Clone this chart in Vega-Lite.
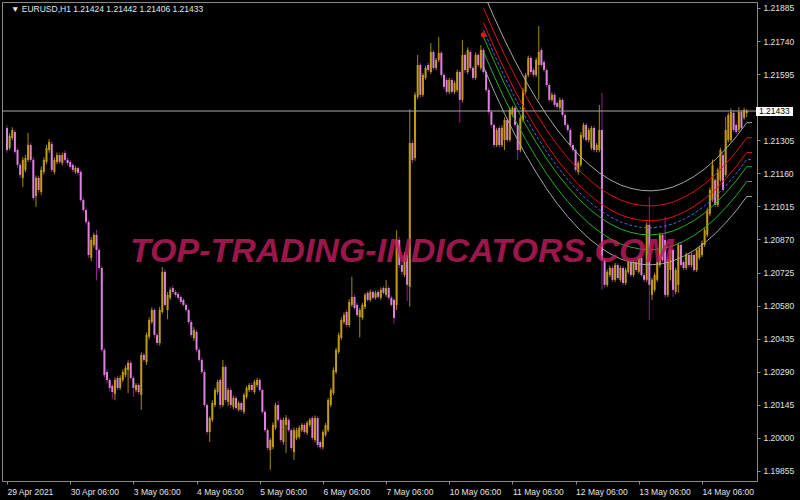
{
"$schema":"https://vega.github.io/schema/vega-lite/v6.json",
"width":755,"height":479,
"autosize":{"type":"none"},
"padding":{"left":2,"top":2,"right":43,"bottom":19},
"background":"#000000",
"config":{"view":{"stroke":"#8a8a8a","strokeWidth":1},"axis":{"labelFont":"Liberation Sans","labelFontSize":8.5,"labelColor":"#e2e2e2","domainColor":"#8a8a8a","tickColor":"#8a8a8a","grid":false,"labelOverlap":false,"title":null}},
"datasets":{
"candles":[
{"i":0,"o":1.21359,"h":1.21370,"l":1.21250,"c":1.21262},
{"i":1,"o":1.21271,"h":1.21335,"l":1.21262,"c":1.21324},
{"i":2,"o":1.21315,"h":1.21362,"l":1.21305,"c":1.21350},
{"i":3,"o":1.21341,"h":1.21350,"l":1.21245,"c":1.21254},
{"i":4,"o":1.21262,"h":1.21270,"l":1.21185,"c":1.21197},
{"i":5,"o":1.21197,"h":1.21205,"l":1.21140,"c":1.21153},
{"i":6,"o":1.21140,"h":1.21230,"l":1.21100,"c":1.21219},
{"i":7,"o":1.21175,"h":1.21240,"l":1.21165,"c":1.21227},
{"i":8,"o":1.21219,"h":1.21337,"l":1.21210,"c":1.21284},
{"i":9,"o":1.21284,"h":1.21295,"l":1.21210,"c":1.21219},
{"i":10,"o":1.21219,"h":1.21230,"l":1.21040,"c":1.21052},
{"i":11,"o":1.21061,"h":1.21150,"l":1.21013,"c":1.21140},
{"i":12,"o":1.21140,"h":1.21150,"l":1.21075,"c":1.21087},
{"i":13,"o":1.21078,"h":1.21190,"l":1.21065,"c":1.21175},
{"i":14,"o":1.21166,"h":1.21230,"l":1.21155,"c":1.21219},
{"i":15,"o":1.21210,"h":1.21285,"l":1.21200,"c":1.21271},
{"i":16,"o":1.21262,"h":1.21310,"l":1.21250,"c":1.21297},
{"i":17,"o":1.21289,"h":1.21300,"l":1.21165,"c":1.21175},
{"i":18,"o":1.21166,"h":1.21230,"l":1.21155,"c":1.21219},
{"i":19,"o":1.21210,"h":1.21252,"l":1.21200,"c":1.21240},
{"i":20,"o":1.21240,"h":1.21250,"l":1.21200,"c":1.21210},
{"i":21,"o":1.21205,"h":1.21250,"l":1.21195,"c":1.21240},
{"i":22,"o":1.21249,"h":1.21260,"l":1.21210,"c":1.21219},
{"i":23,"o":1.21219,"h":1.21228,"l":1.21195,"c":1.21205},
{"i":24,"o":1.21210,"h":1.21218,"l":1.21180,"c":1.21188},
{"i":25,"o":1.21197,"h":1.21205,"l":1.21165,"c":1.21175},
{"i":26,"o":1.21166,"h":1.21192,"l":1.21158,"c":1.21183},
{"i":27,"o":1.21183,"h":1.21190,"l":1.21150,"c":1.21162},
{"i":28,"o":1.21166,"h":1.21175,"l":1.21035,"c":1.21043},
{"i":29,"o":1.21043,"h":1.21052,"l":1.20990,"c":1.20999},
{"i":30,"o":1.20999,"h":1.21010,"l":1.20935,"c":1.20947},
{"i":31,"o":1.20947,"h":1.20955,"l":1.20790,"c":1.20802},
{"i":32,"o":1.20789,"h":1.20880,"l":1.20775,"c":1.20868},
{"i":33,"o":1.20846,"h":1.20900,"l":1.20835,"c":1.20890},
{"i":34,"o":1.20890,"h":1.20912,"l":1.20690,"c":1.20824},
{"i":35,"o":1.20824,"h":1.20835,"l":1.20735,"c":1.20745},
{"i":36,"o":1.20745,"h":1.20755,"l":1.20375,"c":1.20386},
{"i":37,"o":1.20386,"h":1.20395,"l":1.20265,"c":1.20276},
{"i":38,"o":1.20289,"h":1.20300,"l":1.20240,"c":1.20254},
{"i":39,"o":1.20254,"h":1.20262,"l":1.20205,"c":1.20219},
{"i":40,"o":1.20228,"h":1.20235,"l":1.20170,"c":1.20201},
{"i":41,"o":1.20193,"h":1.20265,"l":1.20165,"c":1.20254},
{"i":42,"o":1.20263,"h":1.20272,"l":1.20210,"c":1.20219},
{"i":43,"o":1.20219,"h":1.20275,"l":1.20210,"c":1.20263},
{"i":44,"o":1.20254,"h":1.20300,"l":1.20245,"c":1.20289},
{"i":45,"o":1.20276,"h":1.20318,"l":1.20265,"c":1.20307},
{"i":46,"o":1.20298,"h":1.20340,"l":1.20197,"c":1.20329},
{"i":47,"o":1.20329,"h":1.20340,"l":1.20255,"c":1.20263},
{"i":48,"o":1.20263,"h":1.20272,"l":1.20180,"c":1.20219},
{"i":49,"o":1.20210,"h":1.20240,"l":1.20200,"c":1.20232},
{"i":50,"o":1.20232,"h":1.20240,"l":1.20192,"c":1.20201},
{"i":51,"o":1.20188,"h":1.20375,"l":1.20123,"c":1.20364},
{"i":52,"o":1.20364,"h":1.20372,"l":1.20333,"c":1.20342},
{"i":53,"o":1.20333,"h":1.20462,"l":1.20320,"c":1.20451},
{"i":54,"o":1.20443,"h":1.20528,"l":1.20432,"c":1.20517},
{"i":55,"o":1.20508,"h":1.20572,"l":1.20500,"c":1.20561},
{"i":56,"o":1.20561,"h":1.20570,"l":1.20440,"c":1.20451},
{"i":57,"o":1.20451,"h":1.20460,"l":1.20405,"c":1.20416},
{"i":58,"o":1.20416,"h":1.20575,"l":1.20405,"c":1.20561},
{"i":59,"o":1.20552,"h":1.20749,"l":1.20545,"c":1.20728},
{"i":60,"o":1.20728,"h":1.20738,"l":1.20575,"c":1.20583},
{"i":61,"o":1.20561,"h":1.20640,"l":1.20520,"c":1.20627},
{"i":62,"o":1.20614,"h":1.20660,"l":1.20605,"c":1.20649},
{"i":63,"o":1.20657,"h":1.20668,"l":1.20632,"c":1.20640},
{"i":64,"o":1.20640,"h":1.20648,"l":1.20618,"c":1.20627},
{"i":65,"o":1.20631,"h":1.20640,"l":1.20605,"c":1.20614},
{"i":66,"o":1.20618,"h":1.20625,"l":1.20588,"c":1.20596},
{"i":67,"o":1.20605,"h":1.20612,"l":1.20575,"c":1.20583},
{"i":68,"o":1.20583,"h":1.20590,"l":1.20552,"c":1.20561},
{"i":69,"o":1.20561,"h":1.20568,"l":1.20498,"c":1.20508},
{"i":70,"o":1.20508,"h":1.20518,"l":1.20440,"c":1.20451},
{"i":71,"o":1.20438,"h":1.20485,"l":1.20425,"c":1.20473},
{"i":72,"o":1.20465,"h":1.20475,"l":1.20375,"c":1.20386},
{"i":73,"o":1.20386,"h":1.20395,"l":1.20332,"c":1.20342},
{"i":74,"o":1.20342,"h":1.20350,"l":1.20280,"c":1.20289},
{"i":75,"o":1.20289,"h":1.20298,"l":1.20135,"c":1.20144},
{"i":76,"o":1.20144,"h":1.20152,"l":1.20015,"c":1.20026},
{"i":77,"o":1.20026,"h":1.20095,"l":1.19982,"c":1.20087},
{"i":78,"o":1.20079,"h":1.20165,"l":1.20070,"c":1.20153},
{"i":79,"o":1.20144,"h":1.20220,"l":1.20135,"c":1.20210},
{"i":80,"o":1.20201,"h":1.20255,"l":1.20190,"c":1.20245},
{"i":81,"o":1.20254,"h":1.20265,"l":1.20128,"c":1.20144},
{"i":82,"o":1.20144,"h":1.20342,"l":1.20135,"c":1.20311},
{"i":83,"o":1.20311,"h":1.20320,"l":1.20155,"c":1.20166},
{"i":84,"o":1.20158,"h":1.20220,"l":1.20140,"c":1.20210},
{"i":85,"o":1.20210,"h":1.20220,"l":1.20130,"c":1.20144},
{"i":86,"o":1.20136,"h":1.20185,"l":1.20125,"c":1.20175},
{"i":87,"o":1.20175,"h":1.20185,"l":1.20120,"c":1.20131},
{"i":88,"o":1.20123,"h":1.20162,"l":1.20115,"c":1.20153},
{"i":89,"o":1.20153,"h":1.20160,"l":1.20112,"c":1.20123},
{"i":90,"o":1.20114,"h":1.20198,"l":1.20105,"c":1.20188},
{"i":91,"o":1.20180,"h":1.20228,"l":1.20170,"c":1.20219},
{"i":92,"o":1.20210,"h":1.20240,"l":1.20200,"c":1.20232},
{"i":93,"o":1.20232,"h":1.20242,"l":1.20200,"c":1.20210},
{"i":94,"o":1.20201,"h":1.20255,"l":1.20192,"c":1.20245},
{"i":95,"o":1.20232,"h":1.20263,"l":1.20222,"c":1.20254},
{"i":96,"o":1.20254,"h":1.20262,"l":1.20200,"c":1.20210},
{"i":97,"o":1.20210,"h":1.20218,"l":1.20105,"c":1.20114},
{"i":98,"o":1.20114,"h":1.20122,"l":1.20025,"c":1.20034},
{"i":99,"o":1.20034,"h":1.20042,"l":1.19945,"c":1.19956},
{"i":100,"o":1.19947,"h":1.20000,"l":1.19860,"c":1.19991},
{"i":101,"o":1.19960,"h":1.20068,"l":1.19950,"c":1.20057},
{"i":102,"o":1.20044,"h":1.20155,"l":1.20035,"c":1.20144},
{"i":103,"o":1.20144,"h":1.20160,"l":1.20070,"c":1.20079},
{"i":104,"o":1.20079,"h":1.20088,"l":1.19980,"c":1.19991},
{"i":105,"o":1.19982,"h":1.20090,"l":1.19970,"c":1.20079},
{"i":106,"o":1.20057,"h":1.20100,"l":1.19934,"c":1.20087},
{"i":107,"o":1.20079,"h":1.20088,"l":1.20025,"c":1.20034},
{"i":108,"o":1.20034,"h":1.20042,"l":1.19945,"c":1.19956},
{"i":109,"o":1.19938,"h":1.20045,"l":1.19903,"c":1.20034},
{"i":110,"o":1.20000,"h":1.20045,"l":1.19990,"c":1.20034},
{"i":111,"o":1.20004,"h":1.20055,"l":1.19995,"c":1.20044},
{"i":112,"o":1.20034,"h":1.20065,"l":1.20025,"c":1.20057},
{"i":113,"o":1.20057,"h":1.20065,"l":1.20018,"c":1.20026},
{"i":114,"o":1.20022,"h":1.20075,"l":1.20012,"c":1.20066},
{"i":115,"o":1.20057,"h":1.20088,"l":1.20048,"c":1.20079},
{"i":116,"o":1.20087,"h":1.20095,"l":1.19990,"c":1.20000},
{"i":117,"o":1.19991,"h":1.20098,"l":1.19980,"c":1.20087},
{"i":118,"o":1.20087,"h":1.20095,"l":1.19960,"c":1.19969},
{"i":119,"o":1.19982,"h":1.19990,"l":1.19950,"c":1.19960},
{"i":120,"o":1.19960,"h":1.20035,"l":1.19950,"c":1.20026},
{"i":121,"o":1.20013,"h":1.20065,"l":1.20005,"c":1.20057},
{"i":122,"o":1.20034,"h":1.20175,"l":1.20025,"c":1.20166},
{"i":123,"o":1.20144,"h":1.20220,"l":1.20135,"c":1.20210},
{"i":124,"o":1.20197,"h":1.20310,"l":1.20188,"c":1.20298},
{"i":125,"o":1.20289,"h":1.20395,"l":1.20280,"c":1.20386},
{"i":126,"o":1.20377,"h":1.20462,"l":1.20368,"c":1.20451},
{"i":127,"o":1.20438,"h":1.20528,"l":1.20428,"c":1.20517},
{"i":128,"o":1.20508,"h":1.20550,"l":1.20498,"c":1.20539},
{"i":129,"o":1.20552,"h":1.20562,"l":1.20485,"c":1.20495},
{"i":130,"o":1.20495,"h":1.20608,"l":1.20485,"c":1.20596},
{"i":131,"o":1.20583,"h":1.20706,"l":1.20575,"c":1.20618},
{"i":132,"o":1.20618,"h":1.20628,"l":1.20562,"c":1.20570},
{"i":133,"o":1.20583,"h":1.20592,"l":1.20530,"c":1.20539},
{"i":134,"o":1.20530,"h":1.20570,"l":1.20440,"c":1.20561},
{"i":135,"o":1.20526,"h":1.20592,"l":1.20518,"c":1.20583},
{"i":136,"o":1.20574,"h":1.20636,"l":1.20565,"c":1.20627},
{"i":137,"o":1.20636,"h":1.20645,"l":1.20597,"c":1.20605},
{"i":138,"o":1.20605,"h":1.20650,"l":1.20597,"c":1.20640},
{"i":139,"o":1.20640,"h":1.20648,"l":1.20606,"c":1.20614},
{"i":140,"o":1.20614,"h":1.20645,"l":1.20606,"c":1.20636},
{"i":141,"o":1.20640,"h":1.20650,"l":1.20610,"c":1.20618},
{"i":142,"o":1.20614,"h":1.20660,"l":1.20605,"c":1.20649},
{"i":143,"o":1.20657,"h":1.20666,"l":1.20628,"c":1.20636},
{"i":144,"o":1.20627,"h":1.20693,"l":1.20618,"c":1.20657},
{"i":145,"o":1.20657,"h":1.20665,"l":1.20605,"c":1.20614},
{"i":146,"o":1.20614,"h":1.20622,"l":1.20575,"c":1.20583},
{"i":147,"o":1.20605,"h":1.20612,"l":1.20500,"c":1.20526},
{"i":148,"o":1.20583,"h":1.20910,"l":1.20560,"c":1.20868},
{"i":149,"o":1.20868,"h":1.20880,"l":1.20745,"c":1.20758},
{"i":150,"o":1.20758,"h":1.20770,"l":1.20715,"c":1.20728},
{"i":151,"o":1.20714,"h":1.20815,"l":1.20705,"c":1.20802},
{"i":152,"o":1.20802,"h":1.20810,"l":1.20600,"c":1.20671},
{"i":153,"o":1.20662,"h":1.21440,"l":1.20575,"c":1.21293},
{"i":154,"o":1.21293,"h":1.21305,"l":1.21205,"c":1.21219},
{"i":155,"o":1.21227,"h":1.21515,"l":1.21215,"c":1.21504},
{"i":156,"o":1.21495,"h":1.21679,"l":1.21485,"c":1.21635},
{"i":157,"o":1.21635,"h":1.21645,"l":1.21490,"c":1.21504},
{"i":158,"o":1.21504,"h":1.21600,"l":1.21495,"c":1.21591},
{"i":159,"o":1.21578,"h":1.21632,"l":1.21570,"c":1.21622},
{"i":160,"o":1.21635,"h":1.21645,"l":1.21605,"c":1.21613},
{"i":161,"o":1.21604,"h":1.21731,"l":1.21595,"c":1.21692},
{"i":162,"o":1.21692,"h":1.21700,"l":1.21612,"c":1.21622},
{"i":163,"o":1.21622,"h":1.21666,"l":1.21612,"c":1.21657},
{"i":164,"o":1.21657,"h":1.21758,"l":1.21648,"c":1.21688},
{"i":165,"o":1.21688,"h":1.21696,"l":1.21580,"c":1.21591},
{"i":166,"o":1.21591,"h":1.21600,"l":1.21528,"c":1.21539},
{"i":167,"o":1.21569,"h":1.21578,"l":1.21505,"c":1.21517},
{"i":168,"o":1.21517,"h":1.21578,"l":1.21508,"c":1.21569},
{"i":169,"o":1.21569,"h":1.21578,"l":1.21508,"c":1.21517},
{"i":170,"o":1.21517,"h":1.21565,"l":1.21508,"c":1.21556},
{"i":171,"o":1.21525,"h":1.21615,"l":1.21515,"c":1.21604},
{"i":172,"o":1.21604,"h":1.21612,"l":1.21381,"c":1.21482},
{"i":173,"o":1.21482,"h":1.21745,"l":1.21470,"c":1.21679},
{"i":174,"o":1.21679,"h":1.21690,"l":1.21600,"c":1.21613},
{"i":175,"o":1.21604,"h":1.21712,"l":1.21595,"c":1.21701},
{"i":176,"o":1.21692,"h":1.21700,"l":1.21612,"c":1.21622},
{"i":177,"o":1.21622,"h":1.21630,"l":1.21568,"c":1.21578},
{"i":178,"o":1.21578,"h":1.21690,"l":1.21570,"c":1.21679},
{"i":179,"o":1.21679,"h":1.21688,"l":1.21625,"c":1.21635},
{"i":180,"o":1.21622,"h":1.21722,"l":1.21612,"c":1.21701},
{"i":181,"o":1.21701,"h":1.21710,"l":1.21595,"c":1.21604},
{"i":182,"o":1.21604,"h":1.21612,"l":1.21515,"c":1.21525},
{"i":183,"o":1.21525,"h":1.21535,"l":1.21418,"c":1.21429},
{"i":184,"o":1.21429,"h":1.21438,"l":1.21360,"c":1.21372},
{"i":185,"o":1.21372,"h":1.21380,"l":1.21272,"c":1.21284},
{"i":186,"o":1.21284,"h":1.21360,"l":1.21275,"c":1.21350},
{"i":187,"o":1.21359,"h":1.21368,"l":1.21272,"c":1.21284},
{"i":188,"o":1.21284,"h":1.21370,"l":1.21275,"c":1.21359},
{"i":189,"o":1.21306,"h":1.21405,"l":1.21262,"c":1.21394},
{"i":190,"o":1.21394,"h":1.21402,"l":1.21296,"c":1.21306},
{"i":191,"o":1.21306,"h":1.21450,"l":1.21298,"c":1.21438},
{"i":192,"o":1.21416,"h":1.21456,"l":1.21408,"c":1.21447},
{"i":193,"o":1.21447,"h":1.21455,"l":1.21362,"c":1.21372},
{"i":194,"o":1.21372,"h":1.21380,"l":1.21218,"c":1.21262},
{"i":195,"o":1.21262,"h":1.21412,"l":1.21252,"c":1.21403},
{"i":196,"o":1.21394,"h":1.21535,"l":1.21385,"c":1.21525},
{"i":197,"o":1.21517,"h":1.21600,"l":1.21508,"c":1.21591},
{"i":198,"o":1.21591,"h":1.21676,"l":1.21582,"c":1.21666},
{"i":199,"o":1.21666,"h":1.21675,"l":1.21595,"c":1.21604},
{"i":200,"o":1.21613,"h":1.21622,"l":1.21582,"c":1.21591},
{"i":201,"o":1.21591,"h":1.21668,"l":1.21582,"c":1.21657},
{"i":202,"o":1.21635,"h":1.21806,"l":1.21482,"c":1.21692},
{"i":203,"o":1.21701,"h":1.21712,"l":1.21625,"c":1.21635},
{"i":204,"o":1.21648,"h":1.21658,"l":1.21604,"c":1.21613},
{"i":205,"o":1.21613,"h":1.21622,"l":1.21538,"c":1.21547},
{"i":206,"o":1.21547,"h":1.21556,"l":1.21472,"c":1.21482},
{"i":207,"o":1.21482,"h":1.21514,"l":1.21474,"c":1.21504},
{"i":208,"o":1.21504,"h":1.21512,"l":1.21450,"c":1.21460},
{"i":209,"o":1.21468,"h":1.21476,"l":1.21443,"c":1.21451},
{"i":210,"o":1.21447,"h":1.21492,"l":1.21438,"c":1.21482},
{"i":211,"o":1.21482,"h":1.21490,"l":1.21406,"c":1.21416},
{"i":212,"o":1.21416,"h":1.21424,"l":1.21362,"c":1.21372},
{"i":213,"o":1.21372,"h":1.21380,"l":1.21340,"c":1.21350},
{"i":214,"o":1.21350,"h":1.21358,"l":1.21274,"c":1.21284},
{"i":215,"o":1.21284,"h":1.21292,"l":1.21252,"c":1.21262},
{"i":216,"o":1.21262,"h":1.21270,"l":1.21165,"c":1.21175},
{"i":217,"o":1.21166,"h":1.21215,"l":1.21155,"c":1.21205},
{"i":218,"o":1.21197,"h":1.21340,"l":1.21188,"c":1.21328},
{"i":219,"o":1.21319,"h":1.21382,"l":1.21310,"c":1.21372},
{"i":220,"o":1.21372,"h":1.21380,"l":1.21296,"c":1.21306},
{"i":221,"o":1.21306,"h":1.21360,"l":1.21296,"c":1.21350},
{"i":222,"o":1.21271,"h":1.21368,"l":1.21262,"c":1.21359},
{"i":223,"o":1.21359,"h":1.21368,"l":1.21252,"c":1.21262},
{"i":224,"o":1.21262,"h":1.21293,"l":1.21252,"c":1.21284},
{"i":225,"o":1.21262,"h":1.21460,"l":1.21252,"c":1.21350},
{"i":226,"o":1.21350,"h":1.21512,"l":1.20649,"c":1.20780},
{"i":227,"o":1.20780,"h":1.20790,"l":1.20660,"c":1.20671},
{"i":228,"o":1.20671,"h":1.20738,"l":1.20662,"c":1.20728},
{"i":229,"o":1.20714,"h":1.20755,"l":1.20705,"c":1.20745},
{"i":230,"o":1.20745,"h":1.20755,"l":1.20683,"c":1.20693},
{"i":231,"o":1.20693,"h":1.20768,"l":1.20684,"c":1.20758},
{"i":232,"o":1.20758,"h":1.20766,"l":1.20692,"c":1.20701},
{"i":233,"o":1.20693,"h":1.20755,"l":1.20684,"c":1.20745},
{"i":234,"o":1.20745,"h":1.20753,"l":1.20670,"c":1.20679},
{"i":235,"o":1.20679,"h":1.20746,"l":1.20670,"c":1.20736},
{"i":236,"o":1.20728,"h":1.20780,"l":1.20720,"c":1.20771},
{"i":237,"o":1.20771,"h":1.20780,"l":1.20705,"c":1.20714},
{"i":238,"o":1.20714,"h":1.20780,"l":1.20705,"c":1.20771},
{"i":239,"o":1.20771,"h":1.20780,"l":1.20727,"c":1.20736},
{"i":240,"o":1.20728,"h":1.20798,"l":1.20720,"c":1.20789},
{"i":241,"o":1.20789,"h":1.20798,"l":1.20705,"c":1.20714},
{"i":242,"o":1.20714,"h":1.20722,"l":1.20683,"c":1.20693},
{"i":243,"o":1.20693,"h":1.20945,"l":1.20684,"c":1.20934},
{"i":244,"o":1.20934,"h":1.21056,"l":1.20517,"c":1.20671},
{"i":245,"o":1.20627,"h":1.20702,"l":1.20605,"c":1.20693},
{"i":246,"o":1.20649,"h":1.20724,"l":1.20640,"c":1.20714},
{"i":247,"o":1.20693,"h":1.20780,"l":1.20684,"c":1.20771},
{"i":248,"o":1.20758,"h":1.20900,"l":1.20748,"c":1.20890},
{"i":249,"o":1.20890,"h":1.20898,"l":1.20770,"c":1.20780},
{"i":250,"o":1.20868,"h":1.20969,"l":1.20615,"c":1.20627},
{"i":251,"o":1.20627,"h":1.20790,"l":1.20617,"c":1.20780},
{"i":252,"o":1.20736,"h":1.20834,"l":1.20690,"c":1.20824},
{"i":253,"o":1.20824,"h":1.20832,"l":1.20618,"c":1.20649},
{"i":254,"o":1.20640,"h":1.20746,"l":1.20630,"c":1.20736},
{"i":255,"o":1.20671,"h":1.20856,"l":1.20636,"c":1.20846},
{"i":256,"o":1.20846,"h":1.20855,"l":1.20748,"c":1.20758},
{"i":257,"o":1.20771,"h":1.20780,"l":1.20735,"c":1.20745},
{"i":258,"o":1.20745,"h":1.20812,"l":1.20736,"c":1.20802},
{"i":259,"o":1.20802,"h":1.20810,"l":1.20748,"c":1.20758},
{"i":260,"o":1.20758,"h":1.20812,"l":1.20748,"c":1.20802},
{"i":261,"o":1.20802,"h":1.20810,"l":1.20727,"c":1.20736},
{"i":262,"o":1.20736,"h":1.20834,"l":1.20727,"c":1.20824},
{"i":263,"o":1.20789,"h":1.20842,"l":1.20780,"c":1.20833},
{"i":264,"o":1.20802,"h":1.20865,"l":1.20793,"c":1.20855},
{"i":265,"o":1.20846,"h":1.20922,"l":1.20837,"c":1.20912},
{"i":266,"o":1.20890,"h":1.21010,"l":1.20880,"c":1.20999},
{"i":267,"o":1.20982,"h":1.21098,"l":1.20972,"c":1.21087},
{"i":268,"o":1.21043,"h":1.21220,"l":1.21035,"c":1.21197},
{"i":269,"o":1.21131,"h":1.21140,"l":1.21010,"c":1.21021},
{"i":270,"o":1.21021,"h":1.21185,"l":1.21012,"c":1.21175},
{"i":271,"o":1.21131,"h":1.21272,"l":1.21122,"c":1.21262},
{"i":272,"o":1.21240,"h":1.21250,"l":1.21076,"c":1.21087},
{"i":273,"o":1.21153,"h":1.21407,"l":1.21145,"c":1.21350},
{"i":274,"o":1.21306,"h":1.21426,"l":1.21296,"c":1.21416},
{"i":275,"o":1.21306,"h":1.21445,"l":1.21296,"c":1.21429},
{"i":276,"o":1.21425,"h":1.21434,"l":1.21340,"c":1.21350},
{"i":277,"o":1.21372,"h":1.21382,"l":1.21332,"c":1.21341},
{"i":278,"o":1.21350,"h":1.21450,"l":1.21340,"c":1.21429},
{"i":279,"o":1.21429,"h":1.21438,"l":1.21350,"c":1.21359},
{"i":280,"o":1.21403,"h":1.21448,"l":1.21395,"c":1.21438},
{"i":281,"o":1.21424,"h":1.21442,"l":1.21406,"c":1.21433}
],
"bands":[
{"i":181,"c":1.21789,"r1":1.21820,"r2":1.21885,"w1":1.21951,"g1":1.21758,"g2":1.21693,"w2":1.21627},
{"i":185,"c":1.21683,"r1":1.21714,"r2":1.21779,"w1":1.21845,"g1":1.21652,"g2":1.21587,"w2":1.21521},
{"i":189,"c":1.21583,"r1":1.21614,"r2":1.21679,"w1":1.21745,"g1":1.21552,"g2":1.21487,"w2":1.21421},
{"i":193,"c":1.21490,"r1":1.21521,"r2":1.21586,"w1":1.21652,"g1":1.21459,"g2":1.21394,"w2":1.21328},
{"i":197,"c":1.21404,"r1":1.21435,"r2":1.21500,"w1":1.21566,"g1":1.21373,"g2":1.21308,"w2":1.21242},
{"i":201,"c":1.21326,"r1":1.21357,"r2":1.21422,"w1":1.21488,"g1":1.21295,"g2":1.21230,"w2":1.21164},
{"i":205,"c":1.21254,"r1":1.21285,"r2":1.21350,"w1":1.21416,"g1":1.21223,"g2":1.21158,"w2":1.21092},
{"i":209,"c":1.21189,"r1":1.21220,"r2":1.21285,"w1":1.21351,"g1":1.21158,"g2":1.21093,"w2":1.21027},
{"i":213,"c":1.21132,"r1":1.21163,"r2":1.21228,"w1":1.21294,"g1":1.21101,"g2":1.21036,"w2":1.20970},
{"i":217,"c":1.21081,"r1":1.21112,"r2":1.21177,"w1":1.21243,"g1":1.21050,"g2":1.20985,"w2":1.20919},
{"i":221,"c":1.21037,"r1":1.21068,"r2":1.21133,"w1":1.21199,"g1":1.21006,"g2":1.20941,"w2":1.20875},
{"i":225,"c":1.21000,"r1":1.21031,"r2":1.21096,"w1":1.21162,"g1":1.20969,"g2":1.20904,"w2":1.20838},
{"i":229,"c":1.20970,"r1":1.21001,"r2":1.21066,"w1":1.21132,"g1":1.20939,"g2":1.20874,"w2":1.20808},
{"i":233,"c":1.20947,"r1":1.20978,"r2":1.21043,"w1":1.21109,"g1":1.20916,"g2":1.20851,"w2":1.20785},
{"i":237,"c":1.20932,"r1":1.20963,"r2":1.21028,"w1":1.21094,"g1":1.20901,"g2":1.20836,"w2":1.20770},
{"i":241,"c":1.20923,"r1":1.20954,"r2":1.21019,"w1":1.21085,"g1":1.20892,"g2":1.20827,"w2":1.20761},
{"i":245,"c":1.20921,"r1":1.20952,"r2":1.21017,"w1":1.21083,"g1":1.20890,"g2":1.20825,"w2":1.20759},
{"i":249,"c":1.20926,"r1":1.20957,"r2":1.21022,"w1":1.21088,"g1":1.20895,"g2":1.20830,"w2":1.20764},
{"i":253,"c":1.20938,"r1":1.20969,"r2":1.21034,"w1":1.21100,"g1":1.20907,"g2":1.20842,"w2":1.20776},
{"i":257,"c":1.20958,"r1":1.20989,"r2":1.21054,"w1":1.21120,"g1":1.20927,"g2":1.20862,"w2":1.20796},
{"i":261,"c":1.20984,"r1":1.21015,"r2":1.21080,"w1":1.21146,"g1":1.20953,"g2":1.20888,"w2":1.20822},
{"i":265,"c":1.21017,"r1":1.21048,"r2":1.21113,"w1":1.21179,"g1":1.20986,"g2":1.20921,"w2":1.20855},
{"i":269,"c":1.21057,"r1":1.21088,"r2":1.21153,"w1":1.21219,"g1":1.21026,"g2":1.20961,"w2":1.20895},
{"i":273,"c":1.21105,"r1":1.21136,"r2":1.21201,"w1":1.21267,"g1":1.21074,"g2":1.21009,"w2":1.20943},
{"i":277,"c":1.21158,"r1":1.21189,"r2":1.21254,"w1":1.21320,"g1":1.21127,"g2":1.21062,"w2":1.20996},
{"i":281,"c":1.21220,"r1":1.21251,"r2":1.21316,"w1":1.21382,"g1":1.21189,"g2":1.21124,"w2":1.21058},
{"i":283,"c":1.21220,"r1":1.21251,"r2":1.21316,"w1":1.21382,"g1":1.21189,"g2":1.21124,"w2":1.21058}
]
},
"layer":[
{"data":{"name":"candles"},"mark":{"type":"rule","strokeWidth":1},
 "encoding":{
  "x":{"field":"i","type":"quantitative","title":null,"scale":{"domain":[0,283],"nice":false,"zero":false},
   "axis":{"title":null,"orient":"bottom","values":[0,24,48,72,96,120,144,168,192,216,240,264],"tickCount":30,"labelExpr":"['29 Apr 2021','30 Apr 06:00','3 May 06:00','4 May 06:00','5 May 06:00','6 May 06:00','7 May 06:00','10 May 06:00','11 May 06:00','12 May 06:00','13 May 06:00','14 May 06:00'][round(datum.value/24)]","labelAlign":"left","labelFlush":false,"labelOverlap":false,"tickSize":3,"labelPadding":3,"domain":false}},
  "y":{"field":"l","type":"quantitative","title":null,"scale":{"domain":[1.19811,1.21911],"nice":false,"zero":false},
   "axis":{"title":null,"orient":"right","values":[1.19855,1.20000,1.20145,1.20290,1.20435,1.20580,1.20725,1.20870,1.21015,1.21160,1.21305,1.21595,1.21740,1.21885],"tickCount":30,"format":".5f","tickSize":3,"labelPadding":3,"labelOverlap":false,"labelBound":false,"domain":false}},
  "y2":{"field":"h"},
  "color":{"condition":{"test":"datum.c >= datum.o","value":"#a8880c"},"value":"#8e2090"}}},
{"data":{"name":"candles"},"mark":{"type":"bar","size":2},
 "encoding":{
  "x":{"field":"i","type":"quantitative","title":null},
  "y":{"field":"o","type":"quantitative","title":null},
  "y2":{"field":"c"},
  "color":{"condition":{"test":"datum.c >= datum.o","value":"#c29c10"},"value":"#dc82dc"}}},
{"data":{"name":"bands"},"mark":{"type":"line","color":"#a6a6a6","strokeWidth":1,"clip":true},"encoding":{"x":{"field":"i","type":"quantitative","title":null},"y":{"field":"w1","type":"quantitative","title":null}}},
{"data":{"name":"bands"},"mark":{"type":"line","color":"#e01010","strokeWidth":1,"clip":true},"encoding":{"x":{"field":"i","type":"quantitative","title":null},"y":{"field":"r2","type":"quantitative","title":null}}},
{"data":{"name":"bands"},"mark":{"type":"line","color":"#e01010","strokeWidth":1,"clip":true},"encoding":{"x":{"field":"i","type":"quantitative","title":null},"y":{"field":"r1","type":"quantitative","title":null}}},
{"data":{"name":"bands"},"mark":{"type":"line","color":"#3a6ee8","strokeWidth":1,"strokeDash":[3,2],"clip":true},"encoding":{"x":{"field":"i","type":"quantitative","title":null},"y":{"field":"c","type":"quantitative","title":null}}},
{"data":{"name":"bands"},"mark":{"type":"line","color":"#22b022","strokeWidth":1,"clip":true},"encoding":{"x":{"field":"i","type":"quantitative","title":null},"y":{"field":"g1","type":"quantitative","title":null}}},
{"data":{"name":"bands"},"mark":{"type":"line","color":"#22b022","strokeWidth":1,"clip":true},"encoding":{"x":{"field":"i","type":"quantitative","title":null},"y":{"field":"g2","type":"quantitative","title":null}}},
{"data":{"name":"bands"},"mark":{"type":"line","color":"#a6a6a6","strokeWidth":1,"clip":true},"encoding":{"x":{"field":"i","type":"quantitative","title":null},"y":{"field":"w2","type":"quantitative","title":null}}},
{"data":{"values":[{"i":181,"p":1.21767}]},"mark":{"type":"point","filled":true,"color":"#ff1010","size":28,"opacity":1},"encoding":{"x":{"field":"i","type":"quantitative","title":null},"y":{"field":"p","type":"quantitative","title":null}}},
{"data":{"values":[{"p":1.21433}]},"mark":{"type":"rule","color":"#a8a8a8","strokeWidth":1},"encoding":{"y":{"field":"p","type":"quantitative","title":null}}},
{"data":{"values":[{"t":"TOP-TRADING-INDICATORS.COM"}]},"mark":{"type":"text","font":"Liberation Sans","fontSize":34,"fontWeight":"bold","fontStyle":"italic","fill":"#c21d5e","opacity":0.8,"align":"center","baseline":"alphabetic"},"encoding":{"x":{"datum":150,"type":"quantitative"},"y":{"datum":1.20771,"type":"quantitative"},"text":{"field":"t"}}},
{"data":{"values":[{"t":"▼ EURUSD,H1  1.21424 1.21442 1.21406 1.21433"}]},"mark":{"type":"text","font":"Liberation Sans","fontSize":8.5,"fill":"#e6e6e6","align":"left","baseline":"middle","dx":4,"dy":7},"encoding":{"x":{"datum":0,"type":"quantitative"},"y":{"datum":1.21911,"type":"quantitative"},"text":{"field":"t"}}},
{"data":{"values":[{"t":"1.21433"}]},"mark":{"type":"rect","fill":"#ffffff","xOffset":4,"x2Offset":41,"clip":false},"encoding":{"x":{"datum":283,"type":"quantitative"},"x2":{"datum":283},"y":{"datum":1.21451,"type":"quantitative"},"y2":{"datum":1.21411}}},
{"data":{"values":[{"t":"1.21433"}]},"mark":{"type":"text","font":"Liberation Sans","fontSize":8.5,"fill":"#000000","align":"left","baseline":"middle","dx":7},"encoding":{"x":{"datum":283,"type":"quantitative"},"y":{"datum":1.21433,"type":"quantitative"},"text":{"field":"t"}}}
]
}
